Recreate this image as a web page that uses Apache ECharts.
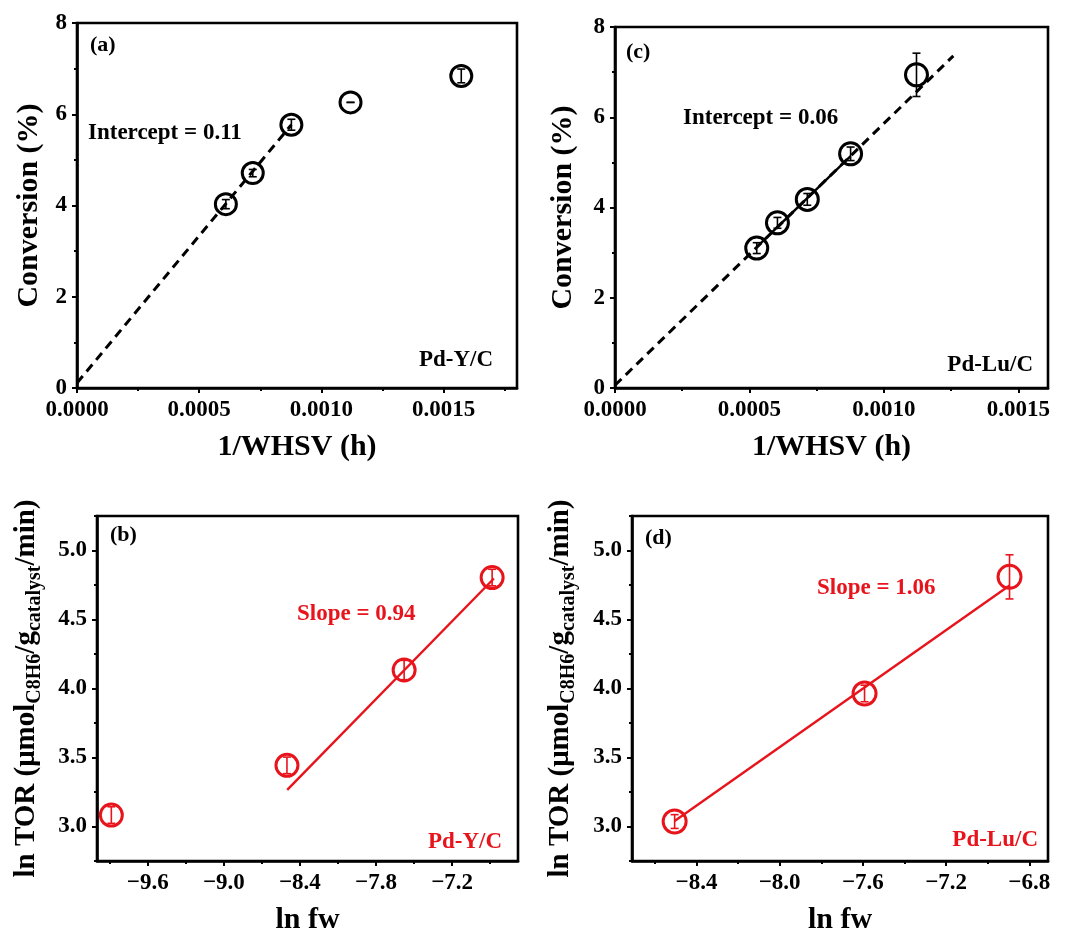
<!DOCTYPE html>
<html>
<head>
<meta charset="utf-8">
<script src="https://cdn.jsdelivr.net/npm/echarts@6/dist/echarts.min.js"></script>
<style>
  html, body { margin: 0; padding: 0; background: #fff; }
  #chart { width: 1073px; height: 936px; }
</style>
</head>
<body>
<div id="chart"></div>
<script>
// ---- (a) Pd-Y/C: conversion vs 1/WHSV ----
const whsvY = [0.000609, 0.000719, 0.000877, 0.001119, 0.001572];
const convY = [4.03, 4.71, 5.77, 6.26, 6.84];
const convYErr = [0.10, 0.08, 0.12, 0.0, 0.15];
const fitY = [[0, 0.11], [0.000877, 5.77]];

// ---- (c) Pd-Lu/C: conversion vs 1/WHSV ----
const whsvLu = [0.000527, 0.000604, 0.000715, 0.000876, 0.001121];
const convLu = [3.10, 3.66, 4.18, 5.19, 6.94];
const convLuErr = [0.12, 0.12, 0.13, 0.15, 0.48];
const fitLuDashed = [[0, 0.06], [0.001258, 7.36]];
const fitLuSolid = [[0.000527, 3.12], [0.000876, 5.14]];

// ---- (b) Pd-Y/C: ln TOR vs ln fw ----
const lnFwY = [-9.887, -8.502, -7.578, -6.884];
const lnTorY = [3.083, 3.443, 4.134, 4.804];
const lnTorYErr = [0.06, 0.06, 0.07, 0.06];
const slopeLineY = [[-8.50, 3.265], [-6.87, 4.797]];

// ---- (d) Pd-Lu/C: ln TOR vs ln fw ----
const lnFwLu = [-8.505, -7.592, -6.895];
const lnTorLu = [3.036, 3.964, 4.809];
const lnTorLuErr = [0.05, 0.06, 0.16];
const slopeLineLu = [[-8.505, 3.04], [-6.895, 4.747]];

// ---- tick values ----
const ticksWhsv = [0, 0.0005, 0.0010, 0.0015];
const minorWhsv = [0.00025, 0.00075, 0.00125, 0.00175];
const ticksConv = [0, 2, 4, 6, 8];
const minorConv = [1, 3, 5, 7];
const ticksTor = [3.0, 3.5, 4.0, 4.5, 5.0];
const minorTor = [2.75, 3.25, 3.75, 4.25, 4.75, 5.25];
const ticksFwY = [-9.6, -9.0, -8.4, -7.8, -7.2];
const minorFwY = [-9.9, -9.3, -8.7, -8.1, -7.5, -6.9];
const ticksFwLu = [-8.4, -8.0, -7.6, -7.2, -6.8];
const minorFwLu = [-8.6, -8.2, -7.8, -7.4, -7.0];

const FONT = '"Liberation Serif", "Times New Roman", serif';
const BLACK = '#000000';
const RED = '#e8141c';

const grids = [
  { left: 77, top: 23, width: 440, height: 365 },   // (a)
  { left: 97, top: 516, width: 421, height: 347 },  // (b)
  { left: 615, top: 27, width: 433, height: 361 },  // (c)
  { left: 632, top: 516, width: 416, height: 347 }  // (d)
].map(g => Object.assign({ show: true, borderColor: BLACK, borderWidth: 2.6, backgroundColor: 'transparent', containLabel: false }, g));

const xAxes = [];
const yAxes = [];

function addAxes(gi, xr, yr, xt, xm, yt, ym, xFmt, yFmt, xName, yName, xGap, yGap) {
  const lab = { fontFamily: FONT, fontWeight: 'bold', fontSize: 23, color: BLACK };
  const nameStyle = {
    fontFamily: FONT, fontWeight: 'bold', fontSize: 30, color: BLACK,
    rich: {
      m: { fontFamily: FONT, fontWeight: 'bold', fontSize: 29, color: BLACK, lineHeight: 36 },
      s: { fontFamily: FONT, fontWeight: 'bold', fontSize: 20, color: BLACK, lineHeight: 18, verticalAlign: 'bottom' }
    }
  };
  xAxes.push({
    gridIndex: gi, type: 'value', position: 'bottom', min: xr[0], max: xr[1],
    name: xName, nameLocation: 'middle', nameGap: xGap, nameTextStyle: nameStyle,
    axisLine: { show: true, onZero: false, lineStyle: { color: BLACK, width: 2.6 } },
    axisTick: { show: true, inside: false, length: 5, customValues: xt, lineStyle: { color: BLACK, width: 2 } },
    axisLabel: { show: true, margin: 11, customValues: xt, formatter: xFmt, ...lab },
    splitLine: { show: false }
  });
  xAxes.push({
    gridIndex: gi, type: 'value', position: 'bottom', min: xr[0], max: xr[1],
    axisLine: { show: false, onZero: false },
    axisTick: { show: true, inside: false, length: 3, customValues: xm, lineStyle: { color: BLACK, width: 2 } },
    axisLabel: { show: false },
    splitLine: { show: false }
  });
  yAxes.push({
    gridIndex: gi, type: 'value', position: 'left', min: yr[0], max: yr[1],
    name: yName, nameLocation: 'middle', nameGap: yGap, nameRotate: 90, nameTextStyle: nameStyle,
    axisLine: { show: true, onZero: false, lineStyle: { color: BLACK, width: 2.6 } },
    axisTick: { show: true, inside: false, length: 5, customValues: yt, lineStyle: { color: BLACK, width: 2 } },
    axisLabel: { show: true, margin: 10, customValues: yt, formatter: yFmt, ...lab },
    splitLine: { show: false }
  });
  yAxes.push({
    gridIndex: gi, type: 'value', position: 'left', min: yr[0], max: yr[1],
    axisLine: { show: false, onZero: false },
    axisTick: { show: true, inside: false, length: 3, customValues: ym, lineStyle: { color: BLACK, width: 2 } },
    axisLabel: { show: false },
    splitLine: { show: false }
  });
}

const fmt4 = v => v.toFixed(4);
const fmtInt = v => String(Math.round(v));
const fmt1 = v => v.toFixed(1);
const fmtNeg = v => (v < 0 ? '\u2212' : '') + Math.abs(v).toFixed(1);
const torName = '{m|ln TOR (μmol}{s|C8H6}{m|/g}{s|catalyst}{m|/min)}';

// axis indices: grid g -> major x = 2g, minor x = 2g+1 (same for y)
addAxes(0, [0, 0.0018], [0, 8], ticksWhsv, minorWhsv, ticksConv, minorConv, fmt4, fmtInt, '1/WHSV (h)', 'Conversion (%)', 44, 33);
addAxes(1, [-10.0, -6.68], [2.75, 5.25], ticksFwY, minorFwY, ticksTor, minorTor, fmtNeg, fmt1, 'ln fw', torName, 44, 52);
addAxes(2, [0, 0.00161], [0, 8], ticksWhsv, minorWhsv.slice(0, 3), ticksConv, minorConv, fmt4, fmtInt, '1/WHSV (h)', 'Conversion (%)', 44, 37);
addAxes(3, [-8.71, -6.71], [2.75, 5.25], ticksFwLu, minorFwLu, ticksTor, minorTor, fmtNeg, fmt1, 'ln fw', torName, 44, 53);

function zip(xs, ys) { return xs.map((x, i) => [x, ys[i]]); }
function errData(xs, ys, es) { return xs.map((x, i) => [x, ys[i] - es[i], ys[i] + es[i]]); }

function errorBars(gi, data, color) {
  return {
    type: 'custom', xAxisIndex: 2 * gi, yAxisIndex: 2 * gi, z: 3,
    data: data,
    renderItem: function (params, api) {
      const lo = api.coord([api.value(0), api.value(1)]);
      const hi = api.coord([api.value(0), api.value(2)]);
      const cap = 4;
      const st = { stroke: color, lineWidth: 1.6, fill: null };
      return {
        type: 'group',
        children: [
          { type: 'line', shape: { x1: lo[0], y1: lo[1], x2: hi[0], y2: hi[1] }, style: st },
          { type: 'line', shape: { x1: lo[0] - cap, y1: lo[1], x2: lo[0] + cap, y2: lo[1] }, style: st },
          { type: 'line', shape: { x1: hi[0] - cap, y1: hi[1], x2: hi[0] + cap, y2: hi[1] }, style: st }
        ]
      };
    }
  };
}

function points(gi, data, color, size) {
  return {
    type: 'scatter', xAxisIndex: 2 * gi, yAxisIndex: 2 * gi, z: 4,
    data: data, symbol: 'circle', symbolSize: size,
    itemStyle: { color: 'transparent', borderColor: color, borderWidth: 3, opacity: 1 },
    emphasis: { disabled: true }
  };
}

function fitLine(gi, data, color, dashed) {
  return {
    type: 'line', xAxisIndex: 2 * gi, yAxisIndex: 2 * gi, z: 2,
    data: data, showSymbol: false, symbol: 'none', animation: false,
    lineStyle: { color: color, width: dashed ? 3 : 2.4, type: dashed ? [9, 6] : 'solid', opacity: 1 }
  };
}

const series = [
  // (a)
  fitLine(0, fitY, BLACK, true),
  errorBars(0, errData(whsvY, convY, convYErr), BLACK),
  points(0, zip(whsvY, convY), BLACK, 21),
  // (b)
  fitLine(1, slopeLineY, RED, false),
  errorBars(1, errData(lnFwY, lnTorY, lnTorYErr), RED),
  points(1, zip(lnFwY, lnTorY), RED, 22),
  // (c)
  fitLine(2, fitLuDashed, BLACK, true),
  fitLine(2, fitLuSolid, BLACK, false),
  errorBars(2, errData(whsvLu, convLu, convLuErr), BLACK),
  points(2, zip(whsvLu, convLu), BLACK, 22),
  // (d)
  fitLine(3, slopeLineLu, RED, false),
  errorBars(3, errData(lnFwLu, lnTorLu, lnTorLuErr), RED),
  points(3, zip(lnFwLu, lnTorLu), RED, 23)
];

function txt(x, y, s, color, align, size) {
  return {
    type: 'text', x: x, y: y, z: 10,
    style: { text: s, fill: color, font: 'bold ' + (size || 23) + 'px ' + FONT, textAlign: align || 'left', textVerticalAlign: 'middle' }
  };
}

const graphics = [
  txt(90, 45, '(a)', BLACK, 'left', 22),
  txt(88, 133, 'Intercept = 0.11', BLACK, 'left', 23),
  txt(493, 360, 'Pd-Y/C', BLACK, 'right', 23),
  txt(626, 52, '(c)', BLACK, 'left', 22),
  txt(683, 118, 'Intercept = 0.06', BLACK, 'left', 23),
  txt(1033, 365, 'Pd-Lu/C', BLACK, 'right', 23),
  txt(110, 535, '(b)', BLACK, 'left', 22),
  txt(297, 614, 'Slope = 0.94', RED, 'left', 23),
  txt(502, 842, 'Pd-Y/C', RED, 'right', 23),
  txt(645, 538, '(d)', BLACK, 'left', 22),
  txt(817, 588, 'Slope = 1.06', RED, 'left', 23),
  txt(1038, 840, 'Pd-Lu/C', RED, 'right', 23)
];

const chart = echarts.init(document.getElementById('chart'), null, { renderer: 'canvas' });
chart.setOption({
  backgroundColor: '#ffffff',
  animation: false,
  grid: grids,
  xAxis: xAxes,
  yAxis: yAxes,
  series: series,
  graphic: graphics
});
</script>
</body>
</html>
